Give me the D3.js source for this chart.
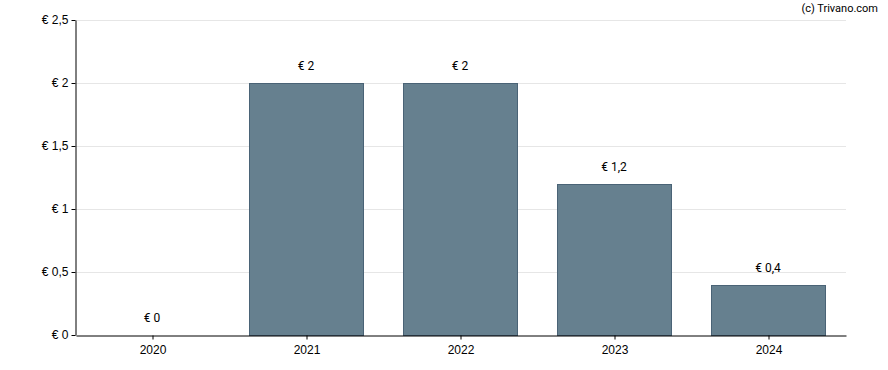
<!DOCTYPE html>
<html>
<head>
<meta charset="utf-8">
<style>
body { margin: 0; background: #fff; }
svg { display: block; font-family: Roboto, sans-serif; }
.grid line { stroke: #e6e6e6; stroke-width: 1px; }
.axis path, .axis line { stroke: #000; }
.axis text { font-size: 12px; fill: #000; }
.lbl { font-size: 12px; fill: #000; text-anchor: middle; }
</style>
<script src="https://d3js.org/d3.v7.min.js"></script>
</head>
<body>
<script>
const years = ['2020', '2021', '2022', '2023', '2024'];
const values = [0, 2, 2, 1.2, 0.4];
const yTicks = [0, 0.5, 1, 1.5, 2, 2.5];

const width = 888, height = 370;
const margin = {top: 20, right: 42, bottom: 35, left: 76};

const fmt = v => '€ ' + String(v).replace('.', ',');

const svg = d3.select('body').append('svg')
  .attr('width', width)
  .attr('height', height);

const x = d3.scaleBand()
  .domain(years)
  .range([margin.left, width - margin.right])
  .paddingInner(0.26)
  .paddingOuter(0.13);

const y = d3.scaleLinear()
  .domain([0, 2.5])
  .range([height - margin.bottom, margin.top]);

// gridlines
svg.append('g')
  .attr('class', 'grid')
  .selectAll('line')
  .data(yTicks.slice(1))
  .enter().append('line')
    .attr('x1', margin.left)
    .attr('x2', width - margin.right)
    .attr('y1', d => Math.round(y(d)) + 0.5)
    .attr('y2', d => Math.round(y(d)) + 0.5);

// bars
svg.append('g')
  .selectAll('rect')
  .data(values)
  .enter().append('rect')
    .attr('x', (d, i) => Math.floor(x(years[i])) - 0.5)
    .attr('y', d => Math.round(y(d)) + 0.5)
    .attr('width', Math.round(x.bandwidth()))
    .attr('height', d => Math.round(y(0)) - Math.round(y(d)))
    .attr('fill', '#66808f')
    .attr('stroke', '#4a6376')
    .attr('stroke-width', 1)
    .style('display', d => d > 0 ? null : 'none');

// value labels
svg.append('g')
  .selectAll('text')
  .data(values)
  .enter().append('text')
    .attr('class', 'lbl')
    .attr('x', (d, i) => x(years[i]) + x.bandwidth() / 2 - 1)
    .attr('y', d => y(d) - 13)
    .text(d => fmt(d));

// axes
svg.append('g')
  .attr('class', 'axis')
  .attr('transform', 'translate(0,' + (Math.round(y(0)) + 0.5) + ')')
  .call(d3.axisBottom(x).tickSize(4).tickSizeOuter(0).tickPadding(6));

svg.append('g')
  .attr('class', 'axis')
  .attr('transform', 'translate(' + (margin.left - 0.5) + ',0)')
  .call(d3.axisLeft(y).tickValues(yTicks).tickFormat(fmt).tickSize(4).tickSizeOuter(0).tickPadding(3));

svg.append('text')
  .attr('x', 878)
  .attr('y', 12)
  .attr('text-anchor', 'end')
  .style('font-size', '11px')
  .text('(c) Trivano.com');
</script>
</body>
</html>
